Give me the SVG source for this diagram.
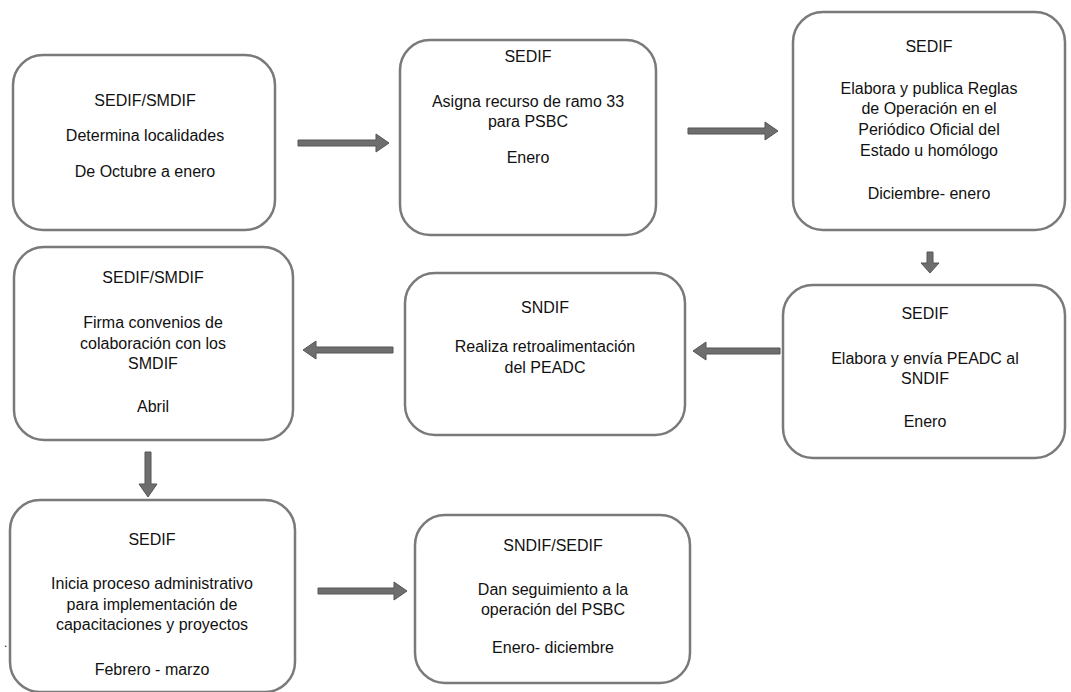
<svg xmlns="http://www.w3.org/2000/svg" width="1071" height="692" viewBox="0 0 1071 692">
<defs>
<style>
.box{fill:#fff;stroke:#7a7a7a;stroke-width:2.5}
.t{font-family:"Liberation Sans",Arial,sans-serif;font-size:16px;fill:#111;text-anchor:middle}
.arr{fill:#6e6e6e;stroke:#555;stroke-width:1}
</style>
<path id="ar" d="M0,-3 L-76,-3 L-76,3 L0,3 Z"/>
</defs>
<rect width="1071" height="692" fill="#fff"/>
<g id="connectors">
<path class="arr" d="M298,140 L376,140 L376,134 L389,143 L376,152 L376,146 L298,146 Z"/>
<path class="arr" d="M688,128 L765,128 L765,122 L778,131 L765,140 L765,134 L688,134 Z"/>
<path class="arr" d="M927,252 L927,263 L921,263 L930,273 L939,263 L933,263 L933,252 Z"/>
<path class="arr" d="M780,348 L706,348 L706,342 L693,351 L706,360 L706,354 L780,354 Z"/>
<path class="arr" d="M393,347 L316,347 L316,341 L303,350 L316,359 L316,353 L393,353 Z"/>
<path class="arr" d="M145,452 L145,484 L139,484 L148,497 L157,484 L151,484 L151,452 Z"/>
<path class="arr" d="M318,588 L394,588 L394,582 L407,591 L394,600 L394,594 L318,594 Z"/>
</g>
<g id="n1">
<rect class="box" x="13" y="55" width="262" height="175" rx="30"/>
<text class="t" x="145" y="106">SEDIF/SMDIF</text>
<text class="t" x="145" y="141">Determina localidades</text>
<text class="t" x="145" y="177">De Octubre a enero</text>
</g>
<g id="n2">
<rect class="box" x="400" y="40" width="256" height="195" rx="30"/>
<text class="t" x="528" y="62">SEDIF</text>
<text class="t" x="528" y="107">Asigna recurso de ramo 33</text>
<text class="t" x="528" y="127">para PSBC</text>
<text class="t" x="528" y="163">Enero</text>
</g>
<g id="n3">
<rect class="box" x="793" y="12" width="272" height="218" rx="30"/>
<text class="t" x="929" y="52">SEDIF</text>
<text class="t" x="929" y="94">Elabora y publica Reglas</text>
<text class="t" x="929" y="114">de Operación en el</text>
<text class="t" x="929" y="135">Periódico Oficial del</text>
<text class="t" x="929" y="156">Estado u homólogo</text>
<text class="t" x="929" y="199">Diciembre- enero</text>
</g>
<g id="n4">
<rect class="box" x="783" y="285" width="282" height="173" rx="30"/>
<text class="t" x="925" y="319">SEDIF</text>
<text class="t" x="925" y="364">Elabora y envía PEADC al</text>
<text class="t" x="925" y="384">SNDIF</text>
<text class="t" x="925" y="427">Enero</text>
</g>
<g id="n5">
<rect class="box" x="405" y="273" width="280" height="162" rx="30"/>
<text class="t" x="545" y="313">SNDIF</text>
<text class="t" x="545" y="352">Realiza retroalimentación</text>
<text class="t" x="545" y="373">del PEADC</text>
</g>
<g id="n6">
<rect class="box" x="14" y="247" width="279" height="193" rx="30"/>
<text class="t" x="153" y="283">SEDIF/SMDIF</text>
<text class="t" x="153" y="328">Firma convenios de</text>
<text class="t" x="153" y="349">colaboración con los</text>
<text class="t" x="153" y="369">SMDIF</text>
<text class="t" x="153" y="412">Abril</text>
</g>
<g id="n7">
<rect class="box" x="10" y="500" width="285" height="192" rx="30"/>
<text class="t" x="152" y="545">SEDIF</text>
<text class="t" x="152" y="589">Inicia proceso administrativo</text>
<text class="t" x="152" y="610">para implementación de</text>
<text class="t" x="152" y="630">capacitaciones y proyectos</text>
<text class="t" x="152" y="675">Febrero - marzo</text>
<text x="4" y="647" style="font-family:'Liberation Sans',Arial,sans-serif;font-size:12px;fill:#111">.</text>
</g>
<g id="n8">
<rect class="box" x="415" y="515" width="275" height="168" rx="30"/>
<text class="t" x="553" y="551">SNDIF/SEDIF</text>
<text class="t" x="553" y="595">Dan seguimiento a la</text>
<text class="t" x="553" y="615">operación del PSBC</text>
<text class="t" x="553" y="653">Enero- diciembre</text>
</g>
</svg>
